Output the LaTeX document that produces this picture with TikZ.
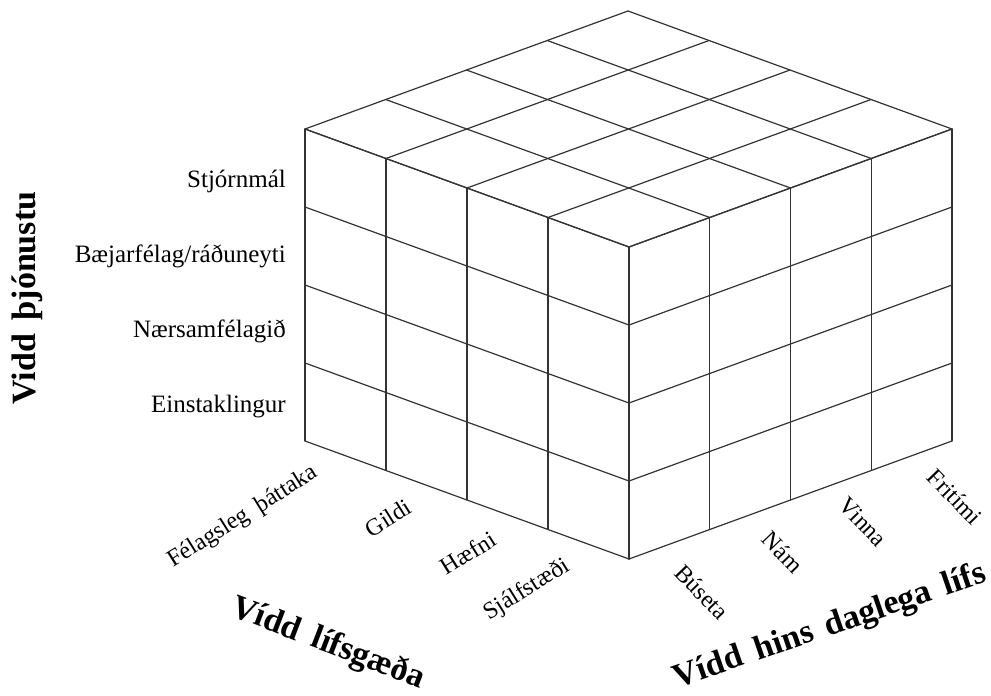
\documentclass[tikz,border=0pt]{standalone}
\usepackage{fontspec}
\setmainfont{Liberation Serif}
\begin{document}
\begin{tikzpicture}[x=1pt,y=-1pt,
  gridline/.style={draw=black!80, line width=1.2pt, line cap=round},
  rowlabel/.style={anchor=east, inner sep=0pt, font=\fontsize{25}{25}\selectfont},
  ticklabel/.style={inner sep=0pt, font=\fontsize{24}{24}\selectfont},
  axislabel/.style={inner sep=0pt, font=\fontsize{34}{34}\selectfont\bfseries}]
\useasboundingbox (0,0) rectangle (991,696);
% cube grid: bottom front vertex (629,559), height 312
\foreach \i in {0,...,4}{
  % left face verticals and horizontals
  \draw[gridline] ({629-81*\i},{559-29.5*\i}) -- ++(0,-312);
  \draw[gridline] (629,{559-78*\i}) -- ++(-324,-118);
  % right face verticals and horizontals
  \draw[gridline] ({629+80.75*\i},{559-29.5*\i}) -- ++(0,-312);
  \draw[gridline] (629,{559-78*\i}) -- ++(323,-118);
  % top face
  \draw[gridline] ({629-81*\i},{247-29.5*\i}) -- ++(323,-118);
  \draw[gridline] ({629+80.75*\i},{247-29.5*\i}) -- ++(-324,-118);
}
% row labels
\node[rowlabel] (r4) at (286,181) {Stjórnmál};
\node[rowlabel] (r3) at (286,256) {Bæjarfélag/ráðuneyti};
\node[rowlabel] (r2) at (286,331) {Nærsamfélagið};
\node[rowlabel] (r1) at (286,407) {Einstaklingur};
% left axis labels
\node[ticklabel, rotate=32] (a1) at (243,517) {Félagsleg\hspace{0.45em}þáttaka};
\node[ticklabel, rotate=32] (a2) at (388,518) {Gildi};
\node[ticklabel, rotate=32] (a3) at (468,553) {Hæfni};
\node[ticklabel, rotate=32] (a4) at (527,590) {Sjálfstæði};
% right axis labels
\node[ticklabel, rotate=-46] (b1) at (702,592) {Búseta};
\node[ticklabel, rotate=-46] (b2) at (783,552) {Nám};
\node[ticklabel, rotate=-46] (b3) at (863,522) {Vinna};
\node[ticklabel, rotate=-46] (b4) at (955,497) {Fritími};
% axis titles
\node[axislabel, rotate=90] (t1) at (27,298) {Vidd\hspace{0.4em}þjónustu};
\node[axislabel, rotate=-21] (t2) at (328,644) {Vídd\hspace{0.4em}lífsgæða};
\node[axislabel, rotate=19] (t3) at (830,627) {Vídd\hspace{0.4em}hins\hspace{0.4em}daglega\hspace{0.4em}lífs};
\end{tikzpicture}
\end{document}
